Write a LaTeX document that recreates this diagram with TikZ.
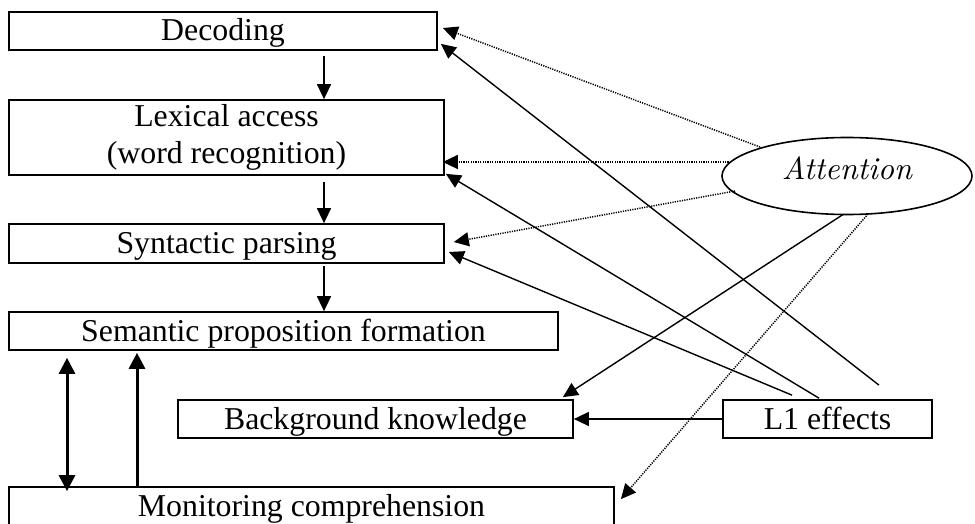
\documentclass[tikz,border=0pt]{standalone}
\usepackage{fontspec}
\setmainfont{Liberation Serif}
\newfontfamily\lmit{lmroman10-italic}[Extension=.otf]
\usetikzlibrary{arrows.meta,shapes.geometric}
\begin{document}
\begin{tikzpicture}[x=0.5pt,y=-0.5pt,
  boxbase/.style={draw,line width=0.85pt,inner sep=0pt,font=\fontsize{15.9}{18.5}\selectfont},
  box/.style={boxbase,text height=11.5pt,text depth=1.5pt},
  attbox/.style={draw,ellipse,line width=0.8pt,inner sep=0pt,minimum width=125pt,minimum height=38.5pt,
    font=\fontsize{15.9}{18.5}\selectfont\lmit,text height=11pt,text depth=7pt},
  thintip/.style={-{Triangle[width=7pt,length=7.5pt]}},
  arr/.style={thintip,line width=0.7pt},
  dotarr/.style={thintip,line width=0.75pt,dash pattern=on 0.6pt off 0.6pt},
  heavyarr/.style={line width=1.5pt}
]
\useasboundingbox (0,0) rectangle (975,524);

% boxes
\node[box,minimum width=214pt,minimum height=19pt] (dec) at (223,31) {Decoding};
\node[boxbase,align=center,minimum width=217.5pt,minimum height=37.5pt] (lex) at (226.5,137.5) {Lexical access\\(word recognition)};
\node[box,minimum width=217.5pt,minimum height=19.5pt] (syn) at (226.5,243.5) {Syntactic parsing};
\node[box,minimum width=274.5pt,minimum height=19pt] (sem) at (283.5,331) {Semantic proposition formation};
\node[box,minimum width=197.5pt,minimum height=19pt] (bk) at (375.5,419) {Background knowledge};
\node[box,minimum width=104.5pt,minimum height=19pt] (l1) at (827.5,419) {L1 effects};
\node[box,minimum width=302.5pt,minimum height=19.5pt] (mon) at (311.5,506.5) {Monitoring comprehension};
\node[attbox] (att) at (847,176) {Attention};

% vertical flow
\coordinate (cx) at (324,0);
\coordinate (dx) at (67,0);
\coordinate (ux) at (137,0);
\draw[arr,shorten <=2.5pt] (dec.south -| cx) -- (lex.north -| cx);
\draw[arr,shorten <=3pt] (lex.south -| cx) -- (syn.north -| cx);
\draw[arr,shorten <=1pt] (syn.south -| cx) -- (sem.north -| cx);

% semantic <-> monitoring
\draw[heavyarr,{Triangle[width=8pt,length=8pt]}-{Triangle[width=8pt,length=8pt]},shorten <=3.5pt,shorten >=-2.5pt]
  (sem.south -| dx) -- (mon.north -| dx);
\draw[heavyarr,-{Triangle[width=8pt,length=8pt]},shorten <=-1pt,shorten >=1pt]
  (mon.north -| ux) -- (sem.south -| ux);

% attention (dotted)
\draw[dotarr] ([shift={(-87,-29)}]att.center) -- ([shift={(5,-3)}]dec.east);
\draw[dotarr] ([shift={(-116,-14)}]att.center) -- ([shift={(-2,24.5)}]lex.east);
\draw[dotarr] ([shift={(-112,15)}]att.center) -- ([shift={(9,-1.5)}]syn.east);
\draw[dotarr] ([shift={(21,38)}]att.center) -- ([shift={(6,13)}]mon.north east);
% attention (solid)
\draw[arr] ([shift={(-4,38.5)}]att.center) -- ([shift={(-11,-2)}]bk.north east);

% L1 effects
\draw[arr] ([shift={(51.5,-14)}]l1.north) -- ([shift={(3,-7)}]dec.south east);
\draw[arr] ([shift={(-8.5,-1)}]l1.north) -- ([shift={(1,-2)}]lex.south east);
\draw[arr] ([shift={(-35.5,-4)}]l1.north) -- ([shift={(4,8.5)}]syn.east);
\draw[arr] (l1.west) -- (bk.east);
\end{tikzpicture}
\end{document}
